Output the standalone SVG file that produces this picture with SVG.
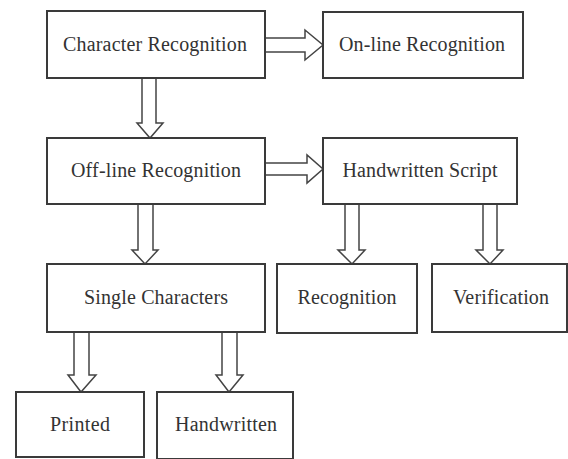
<svg xmlns="http://www.w3.org/2000/svg" width="568" height="459" viewBox="0 0 568 459">
<style>
.box{fill:#fff;stroke:#3a3a3a;stroke-width:2}
.lbl{font-size:20px;fill:#333;text-anchor:middle}
.arr{fill:#fff;stroke:#444;stroke-width:1.5;stroke-linejoin:miter}
</style>
<rect width="568" height="459" fill="#fff"/>
<g id="connectors">
<polyline class="arr" points="142,78 142,123 137,123 150,138 163,123 156,123 156,78"/>
<polyline class="arr" points="138,204 138,250 132,250 145,264 158,250 153,250 153,204"/>
<polyline class="arr" points="74,332 74,375 68,375 81,392 96,375 89,375 89,332"/>
<polyline class="arr" points="222,332 222,375 216,375 229,392 243,375 237,375 237,332"/>
<polyline class="arr" points="345,204 345,250 338,250 352,264 365,250 359,250 359,204"/>
<polyline class="arr" points="483,204 483,250 476,250 490,264 503,250 497,250 497,204"/>
<polyline class="arr" points="265,38 305,38 305,30 323,45 305,60 305,52 265,52"/>
<polyline class="arr" points="265,163 307,163 307,155 323,169 307,183 307,175 265,175"/>
</g>
<g id="labels" font-family="Liberation Serif, serif">
<g id="character-recognition"><rect class="box" x="47" y="11" width="218" height="67"/><text class="lbl" x="155" y="51" textLength="184">Character Recognition</text></g>
<g id="online-recognition"><rect class="box" x="323" y="12" width="200" height="66"/><text class="lbl" x="422" y="51" textLength="166">On-line Recognition</text></g>
<g id="offline-recognition"><rect class="box" x="47" y="138" width="218" height="66"/><text class="lbl" x="156" y="177" textLength="170">Off-line Recognition</text></g>
<g id="handwritten-script"><rect class="box" x="323" y="138" width="194" height="66"/><text class="lbl" x="420" y="177" textLength="155">Handwritten Script</text></g>
<g id="single-characters"><rect class="box" x="47" y="264" width="218" height="68"/><text class="lbl" x="156" y="304" textLength="144">Single Characters</text></g>
<g id="recognition"><rect class="box" x="277" y="264" width="140" height="69"/><text class="lbl" x="347" y="304" textLength="99">Recognition</text></g>
<g id="verification"><rect class="box" x="432" y="264" width="135" height="68"/><text class="lbl" x="501" y="304" textLength="96">Verification</text></g>
<g id="printed"><rect class="box" x="16" y="392" width="128" height="65"/><text class="lbl" x="80" y="431" textLength="60">Printed</text></g>
<g id="handwritten"><rect class="box" x="157" y="392" width="136" height="67"/><text class="lbl" x="226" y="431" textLength="102">Handwritten</text></g>
</g>
</svg>
